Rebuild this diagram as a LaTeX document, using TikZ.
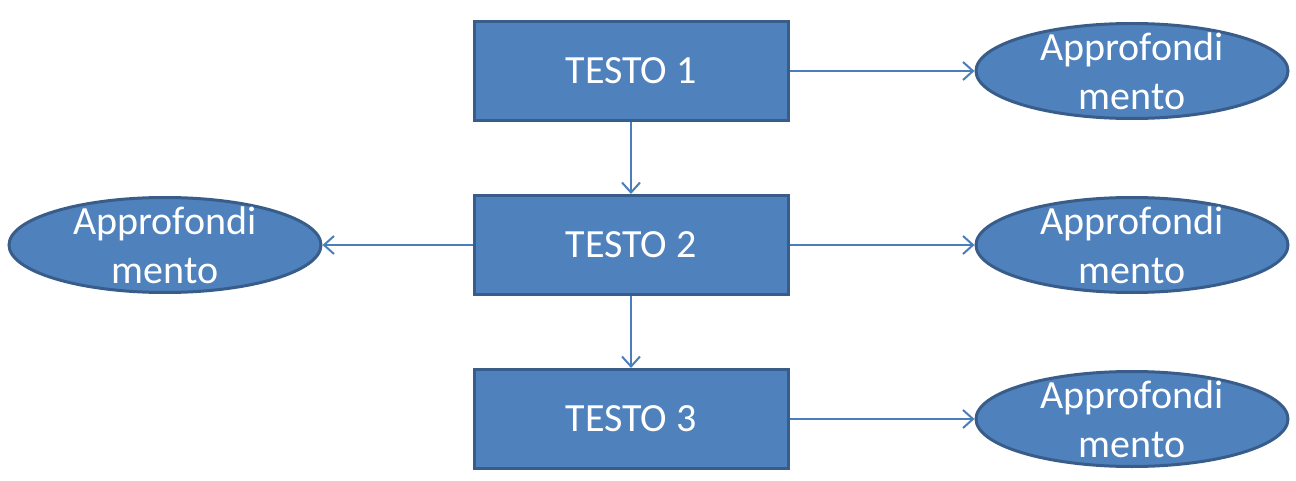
\documentclass[tikz,border=0pt]{standalone}
\usepackage{fontspec}
\setmainfont{Carlito}
\usepackage{xcolor}
\usetikzlibrary{positioning,shapes.geometric,arrows.meta}
\definecolor{boxfill}{HTML}{4F81BD}
\definecolor{boxline}{HTML}{385D8A}
\definecolor{linkline}{HTML}{4A7EBB}

\begin{document}
\begin{tikzpicture}[
  testo/.style={draw=boxline,fill=boxfill,line width=1.5pt,minimum width=157pt,
    minimum height=49.5pt,inner sep=0pt,text=white,font=\fontsize{20}{24.5}\selectfont},
  appro/.style={ellipse,draw=boxline,fill=boxfill,line width=1.5pt,minimum width=156pt,
    minimum height=47.5pt,inner sep=0pt,
    label={[align=center,text=white,font=\fontsize{20}{24.5}\selectfont]center:Approfondi\\mento}},
  link/.style={draw=linkline,line width=1pt,-{Straight Barb[length=5pt,width=9pt]}},
  node distance=36pt]
  \useasboundingbox (0,0) rectangle (648pt,-240.5pt);
  \node[testo] (t1) at (315.5pt,-35.5pt) {TESTO 1};
  \node[testo,below=of t1] (t2) {TESTO 2};
  \node[testo,below=of t2] (t3) {TESTO 3};
  \node[appro,right=92.5pt of t1] (a1) {};
  \node[appro,right=92.5pt of t2] (a2) {};
  \node[appro,right=92.5pt of t3] (a3) {};
  \node[appro,left=75pt of t2] (a0) {};
  \draw[link] (t1) -- (t2);
  \draw[link] (t2) -- (t3);
  \draw[link] (t1) -- (a1);
  \draw[link] (t2) -- (a2);
  \draw[link] (t3) -- (a3);
  \draw[link] (t2) -- (a0);
\end{tikzpicture}
\end{document}
